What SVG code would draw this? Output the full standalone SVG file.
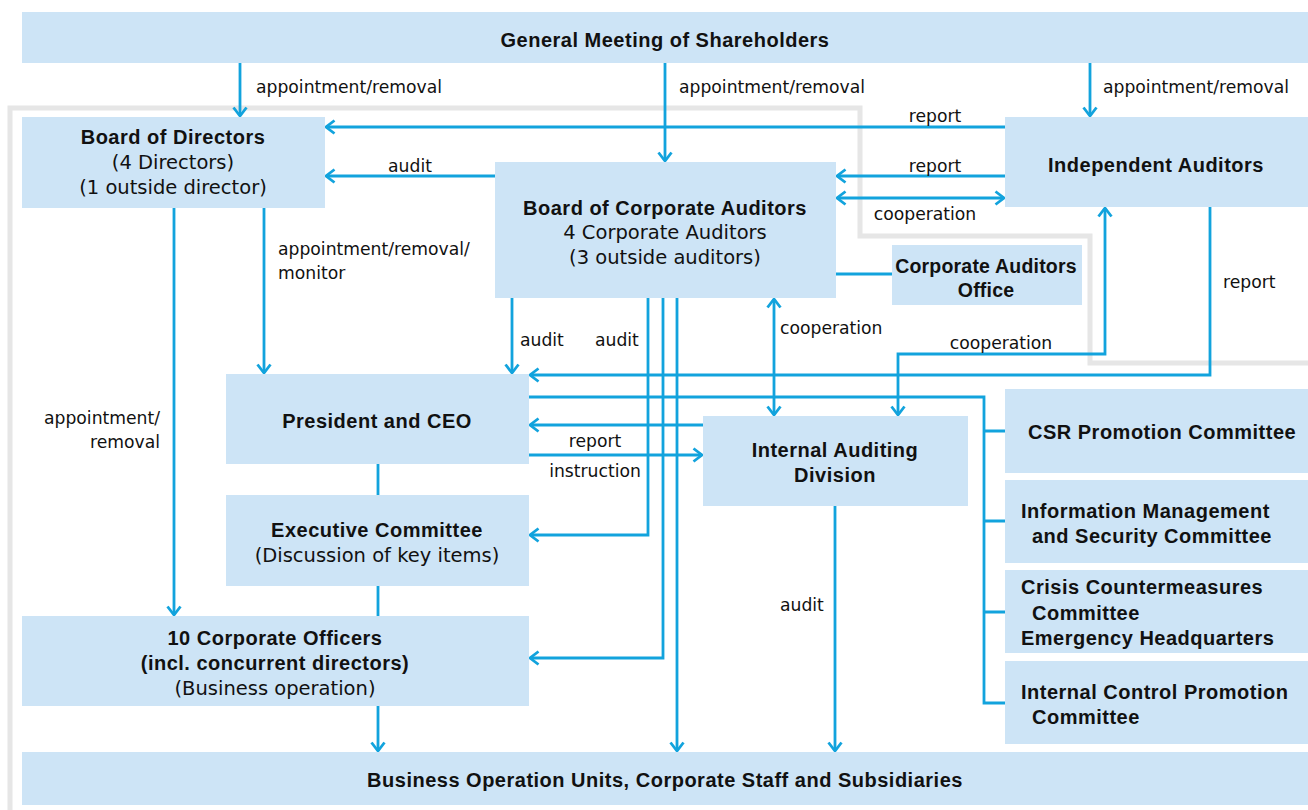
<svg xmlns="http://www.w3.org/2000/svg" width="1308" height="810" viewBox="0 0 1308 810">
<style>
.box{fill:#cde4f6}
.t{font-family:"Liberation Sans",Arial,sans-serif;font-weight:bold;font-size:20px;fill:#111;letter-spacing:0.5px}
.s{font-family:"DejaVu Sans",sans-serif;font-size:19.5px;fill:#111}
.l{font-family:"DejaVu Sans",sans-serif;font-size:17.2px;fill:#111}
.c{stroke:#12a3dd;stroke-width:2.8;fill:none}
.g{stroke:#e6e6e6;stroke-width:5;fill:none}
</style>
<defs>
<marker id="a" markerUnits="userSpaceOnUse" markerWidth="20" markerHeight="20" refX="10" refY="10" orient="auto-start-reverse" viewBox="0 0 20 20">
<path d="M1.5,3.5 L10,10 L1.5,16.5" fill="none" stroke="#12a3dd" stroke-width="2.8"/>
</marker>
</defs>
<rect width="1308" height="810" fill="#fff"/>
<path class="g" d="M10,810 V108 H860 V236 H1090 V363 H1308"/>
<g id="connectors">
<path class="c" d="M240,63 V116" marker-end="url(#a)"/>
<path class="c" d="M665,63 V161" marker-end="url(#a)"/>
<path class="c" d="M1090,63 V116" marker-end="url(#a)"/>
<path class="c" d="M1005,127 H326" marker-end="url(#a)"/>
<path class="c" d="M495,176 H326" marker-end="url(#a)"/>
<path class="c" d="M1005,176 H837" marker-end="url(#a)"/>
<path class="c" d="M837,198 H1004" marker-start="url(#a)" marker-end="url(#a)"/>
<path class="c" d="M836,274 H892"/>
<path class="c" d="M174,208 V615" marker-end="url(#a)"/>
<path class="c" d="M264,208 V373" marker-end="url(#a)"/>
<path class="c" d="M512,298 V373" marker-end="url(#a)"/>
<path class="c" d="M648,298 V535 H530" marker-end="url(#a)"/>
<path class="c" d="M663,298 V658 H530" marker-end="url(#a)"/>
<path class="c" d="M677,298 V751" marker-end="url(#a)"/>
<path class="c" d="M774,299 V415" marker-start="url(#a)" marker-end="url(#a)"/>
<path class="c" d="M1210,207 V375 H530" marker-end="url(#a)"/>
<path class="c" d="M898,415 V354 H1105 V208" marker-start="url(#a)" marker-end="url(#a)"/>
<path class="c" d="M528,397 H984 V703 H1005 M984,431 H1005 M984,521 H1005 M984,612 H1005"/>
<path class="c" d="M703,425 H530" marker-end="url(#a)"/>
<path class="c" d="M528,455 H702" marker-end="url(#a)"/>
<path class="c" d="M835,506 V751" marker-end="url(#a)"/>
<path class="c" d="M378,464 V495 M378,586 V616"/>
<path class="c" d="M378,706 V751" marker-end="url(#a)"/>
</g>
<g id="labels">
<text class="l" x="256" y="93">appointment/removal</text>
<text class="l" x="679" y="93">appointment/removal</text>
<text class="l" x="1103" y="93">appointment/removal</text>
<text class="l" x="935" y="122" text-anchor="middle">report</text>
<text class="l" x="410" y="172" text-anchor="middle">audit</text>
<text class="l" x="935" y="172" text-anchor="middle">report</text>
<text class="l" x="925" y="220" text-anchor="middle">cooperation</text>
<text class="l" x="278" y="255">appointment/removal/</text>
<text class="l" x="278" y="279">monitor</text>
<text class="l" x="1223" y="288">report</text>
<text class="l" x="780" y="334">cooperation</text>
<text class="l" x="1001" y="349" text-anchor="middle">cooperation</text>
<text class="l" x="520" y="346">audit</text>
<text class="l" x="595" y="346">audit</text>
<text class="l" x="160" y="424" text-anchor="end">appointment/</text>
<text class="l" x="160" y="448" text-anchor="end">removal</text>
<text class="l" x="595" y="447" text-anchor="middle">report</text>
<text class="l" x="595" y="477" text-anchor="middle">instruction</text>
<text class="l" x="780" y="611">audit</text>
</g>
<g id="gms"><rect class="box" x="22" y="12" width="1286" height="51"/><text class="t" x="665" y="47" text-anchor="middle">General Meeting of Shareholders</text></g>
<g id="bod"><rect class="box" x="22" y="117" width="303" height="91"/><text class="t" x="173" y="144" text-anchor="middle">Board of Directors</text><text class="s" x="173" y="169" text-anchor="middle">(4 Directors)</text><text class="s" x="173" y="194" text-anchor="middle">(1 outside director)</text></g>
<g id="bca"><rect class="box" x="495" y="162" width="341" height="136"/><text class="t" x="665" y="215" text-anchor="middle">Board of Corporate Auditors</text><text class="s" x="665" y="239" text-anchor="middle">4 Corporate Auditors</text><text class="s" x="665" y="264" text-anchor="middle">(3 outside auditors)</text></g>
<g id="ia"><rect class="box" x="1005" y="117" width="303" height="90"/><text class="t" x="1156" y="172" text-anchor="middle">Independent Auditors</text></g>
<g id="cao"><rect class="box" x="892" y="245" width="190" height="60"/><text class="t" x="986" y="273" text-anchor="middle" style="font-size:19.5px;letter-spacing:0.2px">Corporate Auditors</text><text class="t" x="986" y="297" text-anchor="middle" style="font-size:19.5px;letter-spacing:0.2px">Office</text></g>
<g id="ceo"><rect class="box" x="226" y="374" width="303" height="90"/><text class="t" x="377" y="428" text-anchor="middle">President and CEO</text></g>
<g id="exec"><rect class="box" x="226" y="495" width="303" height="91"/><text class="t" x="377" y="537" text-anchor="middle">Executive Committee</text><text class="s" x="377" y="562" text-anchor="middle">(Discussion of key items)</text></g>
<g id="officers"><rect class="box" x="22" y="616" width="507" height="90"/><text class="t" x="275" y="645" text-anchor="middle">10 Corporate Officers</text><text class="t" x="275" y="670" text-anchor="middle">(incl. concurrent directors)</text><text class="s" x="275" y="695" text-anchor="middle">(Business operation)</text></g>
<g id="iad"><rect class="box" x="703" y="416" width="265" height="90"/><text class="t" x="835" y="457" text-anchor="middle">Internal Auditing</text><text class="t" x="835" y="482" text-anchor="middle">Division</text></g>
<g id="csr"><rect class="box" x="1005" y="389" width="303" height="84"/><text class="t" x="1028" y="439">CSR Promotion Committee</text></g>
<g id="info"><rect class="box" x="1005" y="480" width="303" height="83"/><text class="t" x="1021" y="518">Information Management</text><text class="t" x="1032" y="543">and Security Committee</text></g>
<g id="crisis"><rect class="box" x="1005" y="570" width="303" height="83"/><text class="t" x="1021" y="594">Crisis Countermeasures</text><text class="t" x="1032" y="620">Committee</text><text class="t" x="1021" y="645">Emergency Headquarters</text></g>
<g id="icp"><rect class="box" x="1005" y="661" width="303" height="83"/><text class="t" x="1021" y="699">Internal Control Promotion</text><text class="t" x="1032" y="724">Committee</text></g>
<g id="bou"><rect class="box" x="22" y="752" width="1286" height="53"/><text class="t" x="665" y="787" text-anchor="middle">Business Operation Units, Corporate Staff and Subsidiaries</text></g>
</svg>
